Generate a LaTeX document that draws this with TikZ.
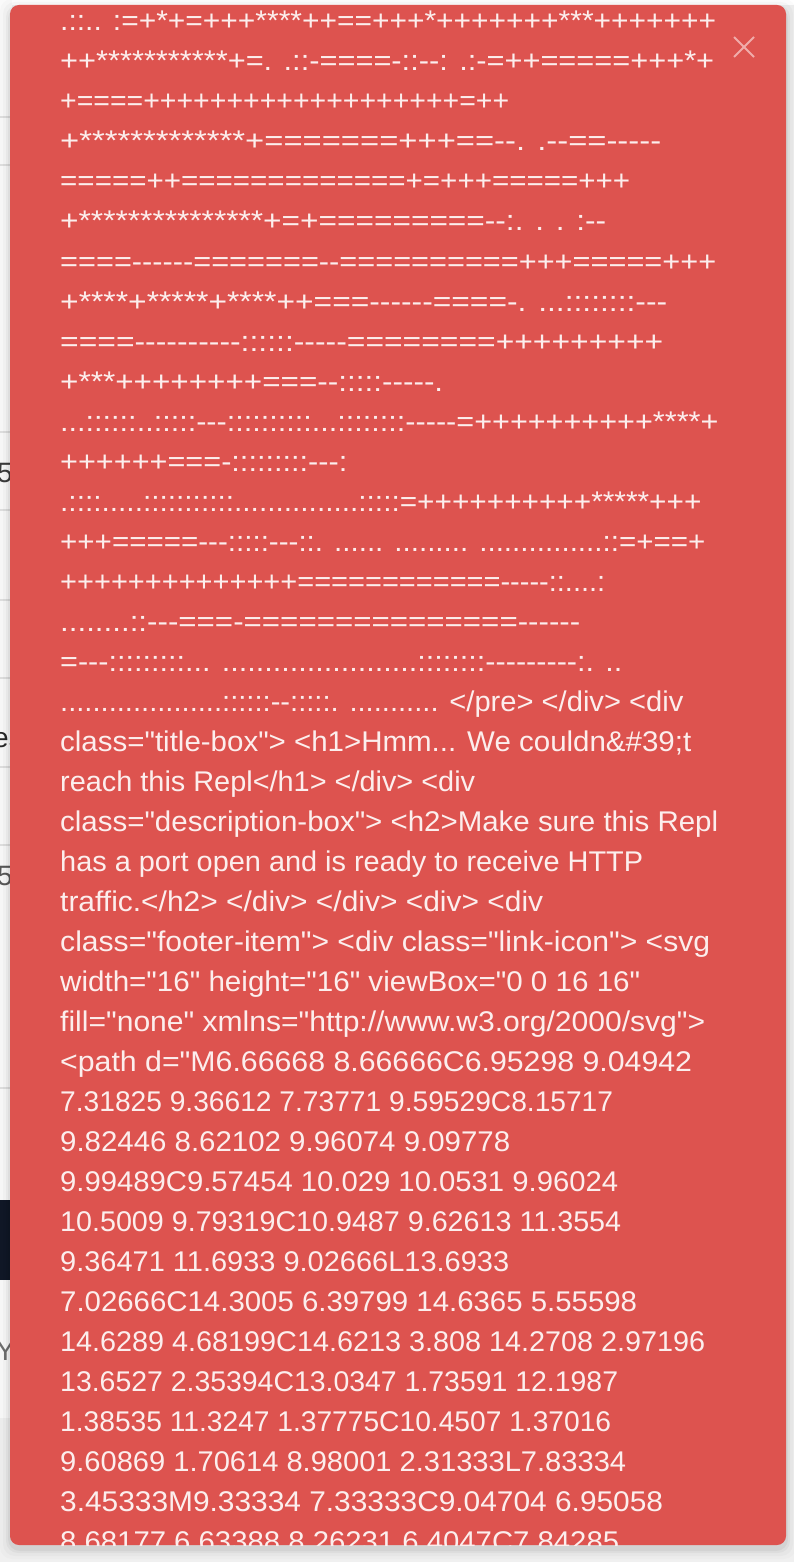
\documentclass[tikz,border=0pt]{standalone}
\usepackage{fontspec}
\usepackage{graphicx}
\newfontfamily\uif{Liberation Sans}
\definecolor{toastred}{RGB}{221,83,79}
\definecolor{txtc}{RGB}{252,238,237}
\definecolor{xcol}{RGB}{240,172,170}
\definecolor{pagebg}{RGB}{240,240,240}
\definecolor{panel}{RGB}{250,250,250}
\definecolor{rule}{RGB}{224,224,224}
\definecolor{navy}{RGB}{17,24,39}
\newcommand\fitw[2]{\resizebox{#1pt}{\height}{#2}}
\begin{document}
\begin{tikzpicture}[x=1pt,y=-1pt,
  ln/.style={anchor=base west,inner sep=0pt,text=txtc,font=\uif\fontsize{28.5}{40}\selectfont},
  bgtxt/.style={inner sep=0pt,font=\uif\fontsize{28}{34}\selectfont},
  rulel/.style={draw=rule,line width=1.5pt},
  closex/.style={draw=xcol,line width=2pt}]
\useasboundingbox (0,0) rectangle (794,1562);
% page behind
\fill[pagebg] (0,0) rectangle (794,1562);
\fill[panel] (0,0) rectangle (12,1418);
\fill[white] (12,0) rectangle (794,5);
\foreach \yy in {117,165,432,510,600,678,767,845,1088}
  \draw[rulel] (0,\yy) -- (12,\yy);
\fill[navy] (0,1200) rectangle (12,1280);
\node[bgtxt,anchor=base east,text={rgb,255:red,60;green,60;blue,60}] (p1) at (13,482) {5};
\node[bgtxt,anchor=base west,text={rgb,255:red,40;green,40;blue,40}] (p2) at (-7,747) {es};
\node[bgtxt,anchor=base east,text={rgb,255:red,90;green,90;blue,90}] (p3) at (13,885) {5};
\node[bgtxt,anchor=base east,text={rgb,255:red,110;green,110;blue,110}] (p4) at (15,1360) {Y};
% shadow
\foreach \s/\o in {10/0.015,7/0.025,4/0.035,2/0.045}
  \fill[black,opacity=\o,rounded corners=12pt] (10-\s,5-\s+4) rectangle (786+\s,1545+\s+4);
% toast box
\fill[toastred,rounded corners=9pt] (10,5) rectangle (786,1545);
\draw[closex] (734,37) -- (754,57);
\draw[closex] (754,37) -- (734,57);
\begin{scope}
\clip[rounded corners=9pt] (10,5) rectangle (786,1545);
\node[ln] (l1) at (60,31) {\fitw{656}{.::.. :=+*+=+++****++==+++*+++++++***+++++++}};
\node[ln] (l2) at (60,71) {\fitw{654}{++***********+=. .::-====-::--: .:-=++=====+++*+}};
\node[ln] (l3) at (60,111) {\fitw{449}{+====+++++++++++++++++++=++}};
\node[ln] (l4) at (60,151) {\fitw{601}{+*************+=======+++==--. .--==-----}};
\node[ln] (l5) at (60,191) {\fitw{570}{=====++=============+=+++=====+++}};
\node[ln] (l6) at (60,231) {\fitw{546}{+***************+=+=========--:. . . :--}};
\node[ln] (l7) at (60,271) {\fitw{656}{====------=======--==========+++=====+++}};
\node[ln] (l8) at (60,311) {\fitw{607}{+****+*****+****++===------====-. ...::::::::---}};
\node[ln] (l9) at (60,351) {\fitw{603}{====----------::::::-----========+++++++++}};
\node[ln] (l10) at (60,391) {\fitw{383}{+***++++++++===--:::::-----.}};
\node[ln] (l11) at (60,431) {\fitw{658}{...::::::..:::::---::::::::::...::::::::-----=++++++++++****+}};
\node[ln] (l12) at (60,471) {\fitw{287}{++++++===-:::::::::---:}};
\node[ln] (l13) at (60,511) {\fitw{641}{.::::.....:::::::::::...............:::::=++++++++++*****+++}};
\node[ln] (l14) at (60,551) {\fitw{645}{+++=====---:::::---::. ...... ......... ...............::=+==+}};
\node[ln] (l15) at (60,591) {\fitw{545}{++++++++++++++============-----::....:}};
\node[ln] (l16) at (60,631) {\fitw{520}{........::---===-===============------}};
\node[ln] (l17) at (60,671) {\fitw{562}{=---:::::::::... .......................::::::::---------:. ..}};
\node[ln] (l18) at (60,711) {\fitw{623}{....................::::::--:::::. ........... </pre> </div> <div}};
\node[ln] (l19) at (60,751) {\fitw{631}{class="title-box"> <h1>Hmm... We couldn\&\#39;t}};
\node[ln] (l20) at (60,791) {\fitw{415}{reach this Repl</h1> </div> <div}};
\node[ln] (l21) at (60,831) {\fitw{658}{class="description-box"> <h2>Make sure this Repl}};
\node[ln] (l22) at (60,871) {\fitw{583}{has a port open and is ready to receive HTTP}};
\node[ln] (l23) at (60,911) {\fitw{483}{traffic.</h2> </div> </div> <div> <div}};
\node[ln] (l24) at (60,951) {\fitw{650}{class="footer-item"> <div class="link-icon"> <svg}};
\node[ln] (l25) at (60,991) {\fitw{580}{width="16" height="16" viewBox="0 0 16 16"}};
\node[ln] (l26) at (60,1031) {\fitw{645}{fill="none" xmlns="http://www.w3.org/2000/svg">}};
\node[ln] (l27) at (60,1071) {\fitw{632}{<path d="M6.66668 8.66666C6.95298 9.04942}};
\node[ln] (l28) at (60,1111) {\fitw{553}{7.31825 9.36612 7.73771 9.59529C8.15717}};
\node[ln] (l29) at (60,1151) {\fitw{450}{9.82446 8.62102 9.96074 9.09778}};
\node[ln] (l30) at (60,1191) {\fitw{558}{9.99489C9.57454 10.029 10.0531 9.96024}};
\node[ln] (l31) at (60,1231) {\fitw{561}{10.5009 9.79319C10.9487 9.62613 11.3554}};
\node[ln] (l32) at (60,1271) {\fitw{449}{9.36471 11.6933 9.02666L13.6933}};
\node[ln] (l33) at (60,1311) {\fitw{577}{7.02666C14.3005 6.39799 14.6365 5.55598}};
\node[ln] (l34) at (60,1351) {\fitw{645}{14.6289 4.68199C14.6213 3.808 14.2708 2.97196}};
\node[ln] (l35) at (60,1391) {\fitw{558}{13.6527 2.35394C13.0347 1.73591 12.1987}};
\node[ln] (l36) at (60,1431) {\fitw{551}{1.38535 11.3247 1.37775C10.4507 1.37016}};
\node[ln] (l37) at (60,1471) {\fitw{566}{9.60869 1.70614 8.98001 2.31333L7.83334}};
\node[ln] (l38) at (60,1511) {\fitw{603}{3.45333M9.33334 7.33333C9.04704 6.95058}};
\node[ln] (l39) at (60,1551) {\fitw{559}{8.68177 6.63388 8.26231 6.4047C7.84285}};
\end{scope}
\end{tikzpicture}
\end{document}
